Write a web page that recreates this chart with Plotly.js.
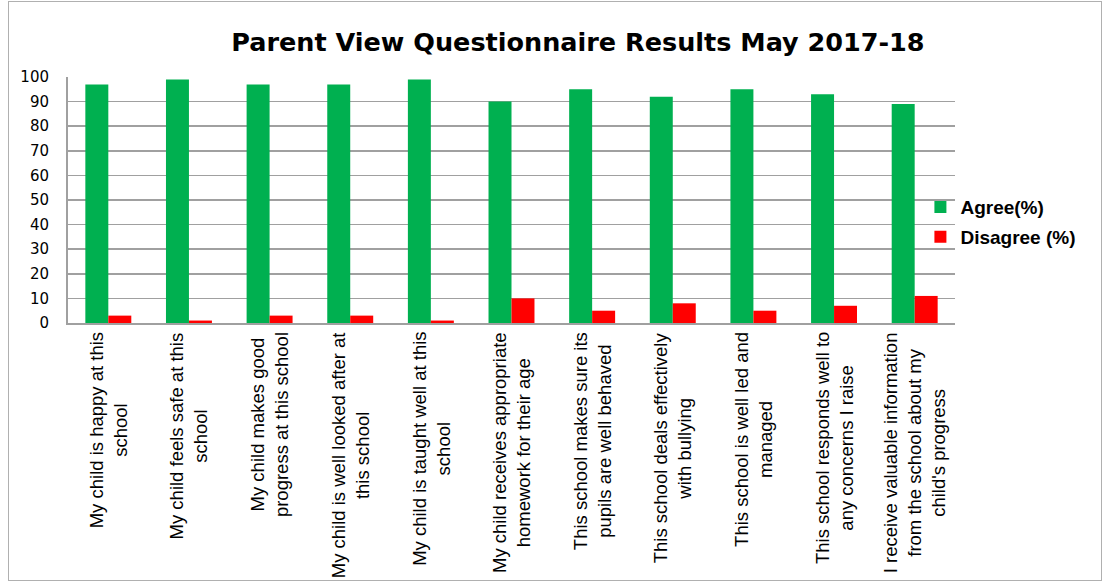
<!DOCTYPE html>
<html>
<head>
<meta charset="utf-8">
<script src="https://cdn.plot.ly/plotly-3.0.1.min.js"></script>
<style>
  html, body { margin: 0; padding: 0; background: #fff; }
  #frame { position: absolute; left: 8px; top: 1px; width: 1094px; height: 580px; border: 1px solid #b0b0b0; box-sizing: border-box; }
  #chart { position: absolute; left: 0; top: 0; width: 1105px; height: 584px; }
</style>
</head>
<body>
<div id="frame"></div>
<div id="chart"></div>
<script>
const categories = [
  "My child is happy at this<br>school",
  "My child feels safe at this<br>school",
  "My child makes good<br>progress at this school",
  "My child is well looked after at<br>this school",
  "My child is taught well at this<br>school",
  "My child receives appropriate<br>homework for their age",
  "This school makes sure its<br>pupils are well behaved",
  "This school deals effectively<br>with bullying",
  "This school is well led and<br>managed",
  "This school responds well to<br>any concerns I raise",
  "I receive valuable information<br>from the school about my<br>child's progress"
];
const agree    = [97, 99, 97, 97, 99, 90, 95, 92, 95, 93, 89];
const disagree = [3, 1, 3, 3, 1, 10, 5, 8, 5, 7, 11];
const seriesNames = ["Agree(%)", "Disagree (%)"];
const chartTitle = "Parent View Questionnaire Results May 2017-18";

const traces = [
  { type: "bar", name: seriesNames[0], legendgroup: "a", x: categories, y: agree, marker: { color: "#00B050" } },
  { type: "bar", name: seriesNames[1], legendgroup: "b", x: categories, y: disagree, marker: { color: "#FF0000" } }
];

const annotations = categories.map(c => ({
  x: c, xref: "x", y: 0, yref: "paper",
  yanchor: "top", xanchor: "center", yshift: -7,
  text: c, showarrow: false, textangle: -90, align: "center",
  font: { family: "Liberation Sans, Arial, sans-serif", size: 18.5, color: "#000" }
}));

const layout = {
  width: 1105, height: 584,
  paper_bgcolor: "rgba(0,0,0,0)", plot_bgcolor: "rgba(0,0,0,0)",
  margin: { l: 68, r: 150, t: 77, b: 261 },
  title: {
    text: "<b>" + chartTitle + "</b>",
    x: 0.523, xanchor: "center", y: 0.928, yanchor: "middle",
    font: { family: "DejaVu Sans, Verdana, sans-serif", size: 25.5, color: "#000" }
  },
  barmode: "group", bargap: 0.43, bargroupgap: 0,
  xaxis: {
    type: "category", showticklabels: false, ticks: "",
    showline: true, linecolor: "#a0a0a0", linewidth: 2, showgrid: false
  },
  yaxis: {
    range: [0, 100], dtick: 10, tick0: 0, ticks: "",
    showline: true, linecolor: "#a0a0a0", linewidth: 2,
    showgrid: true, gridcolor: "#a0a0a0", gridwidth: 1.5,
    zeroline: false, ticklabelstandoff: 14,
    tickfont: { family: "DejaVu Sans, Verdana, sans-serif", size: 15, color: "#000" }
  },
  showlegend: true,
  legend: {
    x: 0.961, xanchor: "left", y: 0.41, yanchor: "middle",
    font: { family: "Liberation Sans, Arial, sans-serif", size: 19, color: "#000", weight: "bold" },
    itemwidth: 30, tracegroupgap: 2, traceorder: "grouped",
    bgcolor: "rgba(0,0,0,0)"
  },
  annotations: annotations
};

Plotly.newPlot("chart", traces, layout, { displayModeBar: false, staticPlot: true });
</script>
</body>
</html>
